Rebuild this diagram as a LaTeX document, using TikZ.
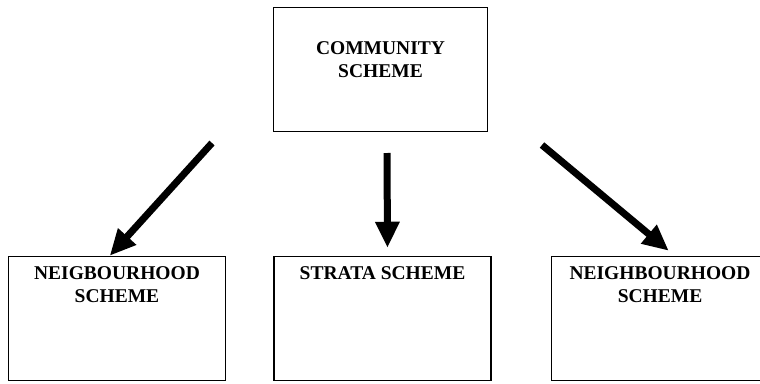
\documentclass[tikz,border=0pt]{standalone}
\usepackage{fontspec}
\setmainfont{Liberation Serif}
\usetikzlibrary{arrows.meta}
\usetikzlibrary{positioning}

\begin{document}
\begin{tikzpicture}[x=1pt,y=-1pt,node distance = 47pt,
	arr/.style={line width=7pt,-{Triangle[length=26pt,width=23pt]}}]
\tikzstyle{box}=[draw,line width=1.5pt,minimum width=217pt,minimum height=124pt,inner sep=0pt]
\tikzstyle{txt}=[anchor=north,inner sep=0pt,align=center,font=\fontsize{19.5}{23}\selectfont\bfseries]
\useasboundingbox (0,0) rectangle (760,383);
\clip (0,0) rectangle (760,383);
\node[box, minimum width=214pt, label={[txt,yshift=-34.5pt]north:COMMUNITY\\SCHEME}]	(comm)	at (380.5,69.5)	{};
\node[box, label={[txt,yshift=-10.5pt]north:NEIGBOURHOOD\\SCHEME}]	(neig)	at (117,318.5)	{};
\node[box, label={[txt,yshift=-10.5pt]north:STRATA SCHEME}]	(strata)	[right= of neig]	{};
\node[box, label={[txt,yshift=-10.5pt]north:NEIGHBOURHOOD\\SCHEME}]	(neigh)	[right=59pt of strata]	{};

\coordinate (tl) at (212,143);
\coordinate (tm) at (387,153);
\coordinate (tr) at (542,145);

\draw[arr] (tl) -- ([xshift=102pt]neig.north west);
\draw[arr] (tm) -- ([xshift=5pt,yshift=8pt]strata.north);
\draw[arr] (tr) -- ([xshift=118pt,yshift=5pt]neigh.north west);
\end{tikzpicture}
\end{document}
